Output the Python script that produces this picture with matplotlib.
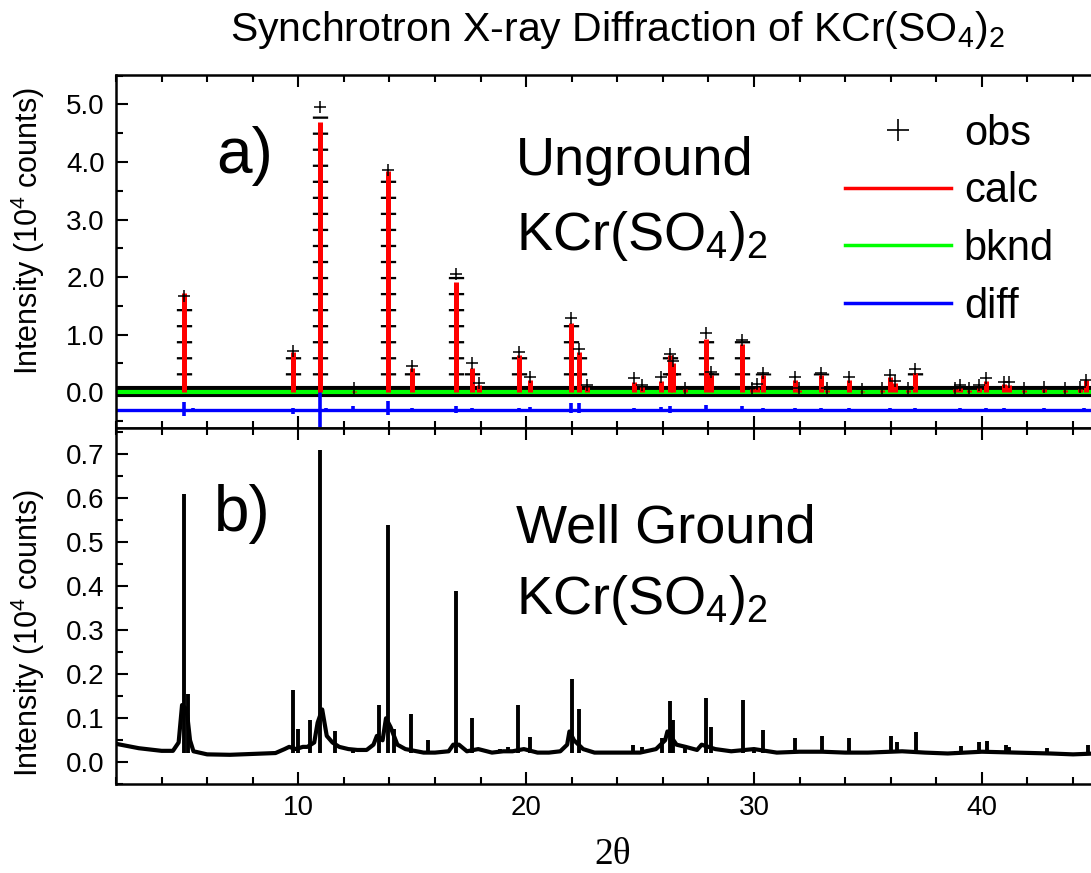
import numpy as np
import matplotlib
matplotlib.use('Agg')
import matplotlib.pyplot as plt
from matplotlib.lines import Line2D
from matplotlib.ticker import MultipleLocator

plt.rcParams['font.family'] = ['Liberation Sans', 'DejaVu Sans']
plt.rcParams['mathtext.fontset'] = 'custom'
plt.rcParams['mathtext.rm'] = 'Liberation Sans'
plt.rcParams['mathtext.default'] = 'regular'

# a) unground sample, Rietveld fit, intensity in 10^4 counts
peak_pos = [4.99, 9.77, 10.94, 12.45, 13.94, 14.99, 16.91, 17.64, 17.92, 19.68,
            20.19, 21.98, 22.31, 22.67, 24.72, 25.08, 25.94, 26.30, 26.45, 26.96,
            27.88, 28.11, 29.47, 29.92, 30.11, 30.39, 31.79, 31.99, 32.96, 33.21,
            34.15, 34.76, 35.60, 35.96, 36.18, 36.76, 37.07, 38.81, 39.06, 39.44,
            39.87, 40.17, 40.97, 41.17, 41.86, 42.74, 43.65, 44.29, 44.57]
calc_h = [1.72, 0.70, 4.70, 0.03, 3.84, 0.42, 1.92, 0.43, 0.13, 0.65,
          0.22, 1.20, 0.70, 0.09, 0.17, 0.10, 0.19, 0.65, 0.50, 0.05,
          0.92, 0.30, 0.84, 0.05, 0.10, 0.30, 0.21, 0.04, 0.30, 0.04,
          0.21, 0.03, 0.04, 0.27, 0.16, 0.04, 0.33, 0.05, 0.08, 0.04,
          0.08, 0.19, 0.14, 0.13, 0.04, 0.06, 0.04, 0.06, 0.21]
obs_h = [1.67, 0.72, 4.96, 0.08, 3.86, 0.45, 2.06, 0.50, 0.16, 0.70,
         0.27, 1.29, 0.76, 0.12, 0.24, 0.12, 0.26, 0.67, 0.55, 0.08,
         1.03, 0.35, 0.91, 0.08, 0.14, 0.33, 0.26, 0.07, 0.33, 0.07,
         0.26, 0.06, 0.07, 0.30, 0.20, 0.07, 0.40, 0.08, 0.12, 0.07,
         0.12, 0.24, 0.18, 0.17, 0.07, 0.09, 0.07, 0.09, 0.22]
obs_bg_x = [2.0, 46.0]
obs_bg_y = [0.02, 0.02]
bknd_x = [2.0, 46.0]
bknd_y = [0.0, 0.0]
diff_x = [2.0, 46.0]
diff_y = [-0.31, -0.31]
diff_pos = [5.0, 5.4, 9.77, 10.94, 11.2, 12.4, 13.94, 14.99, 16.91, 17.64,
            19.68, 20.19, 21.98, 22.31, 24.72, 25.94, 26.30, 27.88, 29.47, 30.39,
            31.79, 32.96, 34.15, 35.96, 37.07, 39.06, 40.17, 40.97, 42.74, 44.5]
diff_lo = [-0.42, -0.33, -0.38, -0.60, -0.34, -0.33, -0.40, -0.35, -0.36, -0.34,
           -0.35, -0.34, -0.36, -0.36, -0.33, -0.34, -0.36, -0.35, -0.34, -0.34,
           -0.34, -0.34, -0.34, -0.34, -0.34, -0.34, -0.34, -0.34, -0.34, -0.34]
diff_hi = [-0.17, -0.27, -0.27, 0.0, -0.27, -0.24, -0.15, -0.27, -0.24, -0.28,
           -0.27, -0.26, -0.18, -0.19, -0.27, -0.26, -0.23, -0.22, -0.24, -0.27,
           -0.28, -0.28, -0.28, -0.28, -0.28, -0.28, -0.28, -0.28, -0.28, -0.28]

# b) well ground sample
ground_x = [2.0, 2.5, 3.0, 3.5, 4.0, 4.5, 4.75, 4.9, 5.1, 5.25, 5.4, 6.0, 7.0, 8.0,
            9.0, 9.4, 9.6, 9.9, 10.2, 10.4, 10.7, 10.85, 11.05, 11.25, 11.5, 11.8,
            12.2, 12.6, 13.0, 13.3, 13.45, 13.7, 13.85, 14.05, 14.35, 14.7, 15.2,
            15.5, 16.0, 16.6, 16.8, 17.05, 17.4, 17.9, 18.5, 19.0, 19.4, 19.9, 20.5,
            21.0, 21.5, 21.8, 21.9, 22.1, 22.5, 23.0, 24.0, 25.0, 25.7, 26.1, 26.2,
            26.6, 27.0, 27.5, 27.7, 28.3, 29.0, 29.6, 30.0, 31.0, 32.0, 33.0, 34.0,
            35.0, 36.5, 37.5, 38.5, 40.0, 41.5, 43.0, 44.0, 45.0, 46.0]
ground_y = [0.042, 0.037, 0.032, 0.029, 0.026, 0.026, 0.045, 0.13, 0.12, 0.05, 0.025,
            0.018, 0.017, 0.019, 0.021, 0.03, 0.035, 0.03, 0.035, 0.035, 0.045, 0.09,
            0.12, 0.06, 0.045, 0.035, 0.03, 0.028, 0.028, 0.04, 0.06, 0.05, 0.10,
            0.08, 0.04, 0.03, 0.025, 0.022, 0.022, 0.025, 0.04, 0.04, 0.025, 0.03,
            0.022, 0.025, 0.025, 0.03, 0.022, 0.022, 0.025, 0.04, 0.07, 0.05, 0.03,
            0.022, 0.022, 0.022, 0.03, 0.05, 0.07, 0.04, 0.035, 0.028, 0.04, 0.03,
            0.025, 0.028, 0.03, 0.022, 0.024, 0.024, 0.022, 0.022, 0.025, 0.022,
            0.02, 0.024, 0.022, 0.02, 0.018, 0.02, 0.02]
ground_pos = [4.98, 5.15, 9.75, 10.0, 10.5, 10.95, 11.6, 12.4, 13.55, 13.95, 14.2,
              14.95, 15.7, 16.92, 17.64, 18.85, 19.2, 19.65, 20.19, 22.0, 22.3, 24.7,
              25.1, 25.95, 26.3, 26.45, 26.95, 27.88, 28.13, 29.5, 30.0, 30.39, 31.81,
              33.0, 34.16, 35.6, 36.02, 36.27, 37.09, 38.85, 39.09, 39.5, 39.89, 40.21,
              41.04, 41.2, 42.85, 44.65]
ground_h = [0.61, 0.155, 0.165, 0.075, 0.095, 0.71, 0.07, 0.03, 0.13, 0.54, 0.075,
            0.11, 0.05, 0.39, 0.10, 0.03, 0.035, 0.13, 0.058, 0.19, 0.12, 0.04,
            0.035, 0.055, 0.14, 0.095, 0.04, 0.146, 0.081, 0.141, 0.03, 0.074, 0.055,
            0.06, 0.055, 0.025, 0.06, 0.045, 0.068, 0.025, 0.038, 0.02, 0.045, 0.048,
            0.04, 0.035, 0.033, 0.04]

fig = plt.figure(figsize=(10.91, 8.73), dpi=100)
ax1 = fig.add_axes([0.1063, 0.5101, 0.919, 0.404])
ax2 = fig.add_axes([0.1063, 0.1016, 0.919, 0.4085])

# top panel
ax1.plot(obs_bg_x, obs_bg_y, color='black', lw=8, solid_capstyle='butt', zorder=1)
ax1.vlines(peak_pos, obs_bg_y[0], obs_h, colors='black', linewidth=11,
           linestyles=(0, (0.15, 0.9)), zorder=1)
ax1.plot(peak_pos, obs_h, ls='none', marker='+', color='black', ms=8.5, mew=1.1, zorder=4)
ax1.plot(bknd_x, bknd_y, color='#00ff00', lw=3, zorder=2)
ax1.vlines(peak_pos, bknd_y[0], calc_h, colors='#ff0000', linewidth=3.6, zorder=3)
ax1.plot(diff_x, diff_y, color='#0000ff', lw=2.4, zorder=2)
ax1.vlines(diff_pos, diff_lo, diff_hi, colors='#0000ff', linewidth=2.6, zorder=2)

ax1.set_xlim(2, 46)
ax1.set_ylim(-0.615, 5.51)
ax1.yaxis.set_major_locator(MultipleLocator(1.0))
ax1.yaxis.set_minor_locator(MultipleLocator(0.5))
ax1.yaxis.set_major_formatter(plt.FormatStrFormatter('%.1f'))
ax1.tick_params(labelbottom=False)
ax1.set_ylabel('Intensity (10$^4$ counts)', fontsize=22)
ax1.yaxis.set_label_coords(-0.069, 0.558)

ax1.text(6.4, 3.81, 'a)', fontsize=46)
ax1.text(19.55, 3.78, 'Unground', fontsize=39)
ax1.text(19.55, 2.47, 'KCr(SO$_4$)$_2$', fontsize=39)

handles = [Line2D([], [], ls='none', marker='+', color='black', ms=16, mew=1.2),
           Line2D([], [], color='#ff0000', lw=2.5),
           Line2D([], [], color='#00ff00', lw=2.5),
           Line2D([], [], color='#0000ff', lw=2.5)]
fig.legend(handles, ['obs', 'calc', 'bknd', 'diff'], loc='upper left',
           bbox_to_anchor=(845 / 1091, 1 - 114 / 873), frameon=False, fontsize=30,
           handlelength=2.55, handletextpad=0.3, labelspacing=0.42,
           borderpad=0, borderaxespad=0)

# bottom panel
ax2.plot(ground_x, ground_y, color='black', lw=3, zorder=2)
ax2.vlines(ground_pos, 0.022, ground_h, colors='black', linewidth=2.8, zorder=2)
ax2.set_xlim(2, 46)
ax2.set_ylim(-0.05, 0.76)
ax2.yaxis.set_major_locator(MultipleLocator(0.1))
ax2.yaxis.set_minor_locator(MultipleLocator(0.05))
ax2.yaxis.set_major_formatter(plt.FormatStrFormatter('%.1f'))
ax2.set_ylabel('Intensity (10$^4$ counts)', fontsize=22)
ax2.yaxis.set_label_coords(-0.069, 0.424)

ax2.text(6.3, 0.525, 'b)', fontsize=46)
ax2.text(19.55, 0.50, 'Well Ground', fontsize=39)
ax2.text(19.55, 0.337, 'KCr(SO$_4$)$_2$', fontsize=39)

for ax in (ax1, ax2):
    ax.xaxis.set_major_locator(MultipleLocator(10))
    ax.xaxis.set_minor_locator(MultipleLocator(2))
    ax.tick_params(which='both', direction='in', top=True, right=True,
                   width=1.5, labelsize=20, pad=8)
    ax.tick_params(which='major', length=8.5)
    ax.tick_params(which='minor', length=5)
    for s in ax.spines.values():
        s.set_linewidth(1.8)

fig.text(0.5655, 1 - 30 / 873, 'Synchrotron X-ray Diffraction of KCr(SO$_4$)$_2$',
         fontsize=29.5, ha='center', va='center')
fig.text(613 / 1091, 1 - 864 / 873, '2\u03b8', fontsize=27, ha='center', va='baseline',
         family=['Liberation Serif', 'DejaVu Serif'])

fig.savefig('out.png', dpi=100)
